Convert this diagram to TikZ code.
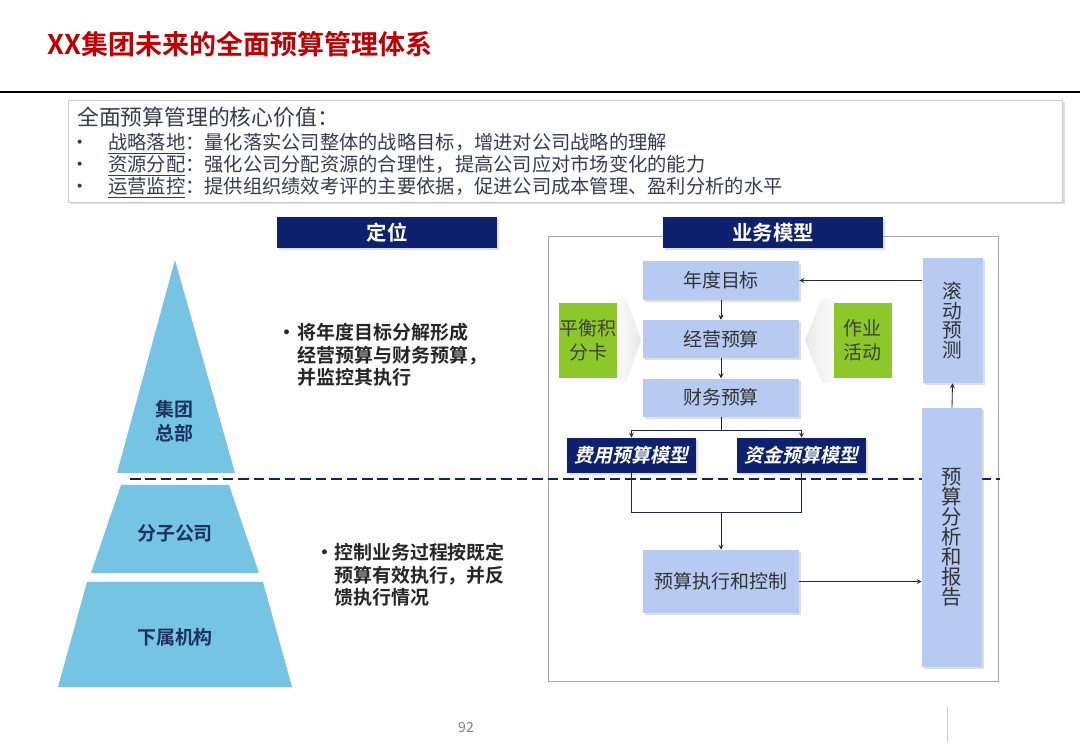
\documentclass[tikz,border=0pt]{standalone}
\usepackage{fontspec}
\setmainfont{Noto Sans CJK SC}[BoldFont={Noto Sans CJK SC Bold}]
\newfontfamily\slantbold{Noto Sans CJK SC Bold}[FakeSlant=0.2]
\usetikzlibrary{shapes,arrows,positioning,calc,shadows}

\definecolor{titlered}{RGB}{192,0,0}
\definecolor{navy}{RGB}{13,33,110}
\definecolor{boxblue}{RGB}{182,202,242}
\definecolor{pyrblue}{RGB}{118,196,228}
\definecolor{leafgreen}{RGB}{140,200,40}
\definecolor{inkblue}{RGB}{30,50,95}
\definecolor{textgray}{RGB}{55,60,80}
\definecolor{lineink}{RGB}{30,40,70}

\newcommand{\dotmark}[1]{\makebox[#1][l]{\makebox[0pt]{•}}}

\begin{document}
\begin{tikzpicture}[
    x=0.025cm, y=-0.025cm,
    node distance=0.5cm,
    shadowed/.style={drop shadow={opacity=0.25, shadow xshift=1.5pt, shadow yshift=-1.5pt}},
    head/.style={rectangle, fill=navy, text=white, minimum width=5.5cm, minimum height=0.775cm, font=\bfseries\fontsize{14.5pt}{16pt}\selectfont, shadowed},
    blk/.style={rectangle, fill=boxblue, text=black!80, minimum width=3.9cm, minimum height=0.95cm, font=\fontsize{13.5pt}{16pt}\selectfont, shadowed},
    leaf/.style={rectangle, fill=leafgreen, text=black!75, minimum width=1.45cm, minimum height=1.875cm, inner sep=0pt, align=center, font=\fontsize{13.5pt}{17pt}\selectfont},
    tall/.style={rectangle, fill=boxblue, text=black!80, minimum width=1.5cm, align=center, shadowed},
    model/.style={rectangle, fill=navy, text=white, minimum width=3.225cm, minimum height=0.875cm, font=\slantbold\fontsize{13.5pt}{16pt}\selectfont, shadowed},
    pyr/.style={fill=pyrblue},
    pyrtext/.style={text=inkblue, align=center, font=\bfseries\fontsize{13.5pt}{17pt}\selectfont},
    note/.style={anchor=west, inner sep=0pt, align=left, text=black!85, font=\bfseries\fontsize{13.5pt}{16pt}\selectfont},
    value/.style={anchor=west, inner sep=0pt, text=textgray, font=\fontsize{13.7pt}{16pt}\selectfont},
    arrow/.style={->, >=stealth, lineink, semithick}
]
    \useasboundingbox (0,0) rectangle (1080,747);
    \fill[white] (0,0) rectangle (1080,747);

    % title
    \node[anchor=west, inner sep=0pt, text=titlered, font=\bfseries\fontsize{19.2pt}{21pt}\selectfont] (title) at (47,44) {XX集团未来的全面预算管理体系};
    \draw[line width=1.5pt] (0,92) -- (1080,92);

    % core values
    \node[draw=gray!40, fill=white, anchor=north west, minimum width=24.85cm, minimum height=2.55cm, shadowed] (core) at (68,100) {};
    \node[value, font=\fontsize{15.5pt}{17pt}\selectfont] (coreh) at (77,117) {全面预算管理的核心价值：};
    \node[value] (v1) at (80,144) {\dotmark{0.7cm}\underline{战略落地}：量化落实公司整体的战略目标，增进对公司战略的理解};
    \node[value] (v2) at (80,166) {\dotmark{0.7cm}\underline{资源分配}：强化公司分配资源的合理性，提高公司应对市场变化的能力};
    \node[value] (v3) at (80,188) {\dotmark{0.7cm}\underline{运营监控}：提供组织绩效考评的主要依据，促进公司成本管理、盈利分析的水平};

    % headers
    \node[head] (dw) at (387,232.5) {定位};

    % business frame
    \draw[gray!70] (548,236) rectangle (998,681);
    \node[head] (yw) at (773,232.5) {业务模型};

    % pyramid
    \fill[pyr] (175,260) -- (235,473) -- (117,473) -- cycle;
    \fill[pyr] (121,485) -- (229,485) -- (259,573) -- (91,573) -- cycle;
    \fill[pyr] (87,582) -- (263,582) -- (292,687) -- (58,687) -- cycle;
    \node[pyrtext] (jt) at (174,421) {集团\\总部};
    \node[pyrtext] (fz) at (175,533) {分子公司};
    \node[pyrtext] (xs) at (175,637) {下属机构};

    % divider
    \draw[navy, line width=2pt, dash pattern=on 7.5pt off 3.5pt] (130,479) -- (1000,479);

    % notes
    \node[note] (n1) at (287,355) {\dotmark{0.25cm}将年度目标分解形成\\\hspace*{0.25cm}经营预算与财务预算，\\\hspace*{0.25cm}并监控其执行};
    \node[note] (n2) at (325,575) {\dotmark{0.22cm}控制业务过程按既定\\\hspace*{0.22cm}预算有效执行，并反\\\hspace*{0.22cm}馈执行情况};

    % side chevrons
    \shade[left color=white, right color=gray!18] (612,298) -- (626,298) -- (641,340) -- (626,383) -- (612,383) -- cycle;
    \shade[left color=gray!18, right color=white] (838,298) -- (822,298) -- (805,340) -- (822,383) -- (838,383) -- cycle;

    % model boxes
    \node[blk] (nd) at (721,280.5) {年度目标};
    \node[blk, below=of nd] (jy) {经营预算};
    \node[blk, below=of jy] (cw) {财务预算};
    \node[leaf] (bsc) at (588,340.5) {平衡积\\分卡};
    \node[leaf] (zy) at (862.5,340.5) {作业\\活动};
    \node[tall, minimum height=3.125cm, font=\fontsize{14pt}{14pt}\selectfont] (gd) at (952.5,320.5) {滚\\动\\预\\测};
    \node[tall, minimum height=6.475cm, font=\fontsize{14.5pt}{14.2pt}\selectfont] (fx) at (952,537.5) {预\\算\\分\\析\\和\\报\\告};
    \node[model] (fy) at (631.5,455.5) {费用预算模型};
    \node[model] (zj) at (801.5,455.5) {资金预算模型};
    \node[blk, minimum height=1.575cm] (zx) at (721,581.5) {预算执行和控制};

    \draw[arrow] (nd) -- (jy);
    \draw[arrow] (jy) -- (cw);
    \draw[lineink, semithick] (cw.south) -- ++(0,-0.33cm) coordinate (fork);
    \draw[arrow] (fork) -| (fy.north);
    \draw[arrow] (fork) -| (zj.north);
    \draw[lineink, semithick] (fy.south) -- ++(0,-0.975cm) coordinate (m1) -| (zj.south);
    \draw[arrow] (m1 -| zx.north) -- (zx.north);
    \draw[arrow] (zx.east) -- (zx.east -| fx.west);
    \draw[arrow] (fx.north) -- (gd.south);
    \draw[arrow] (gd.west |- nd.east) -- (nd.east);

    % footer
    \node[text=gray, font=\fontsize{10pt}{12pt}\selectfont] (pg) at (466,727) {92};
    \draw[gray!40] (947,707) -- (947,742);
\end{tikzpicture}
\end{document}
